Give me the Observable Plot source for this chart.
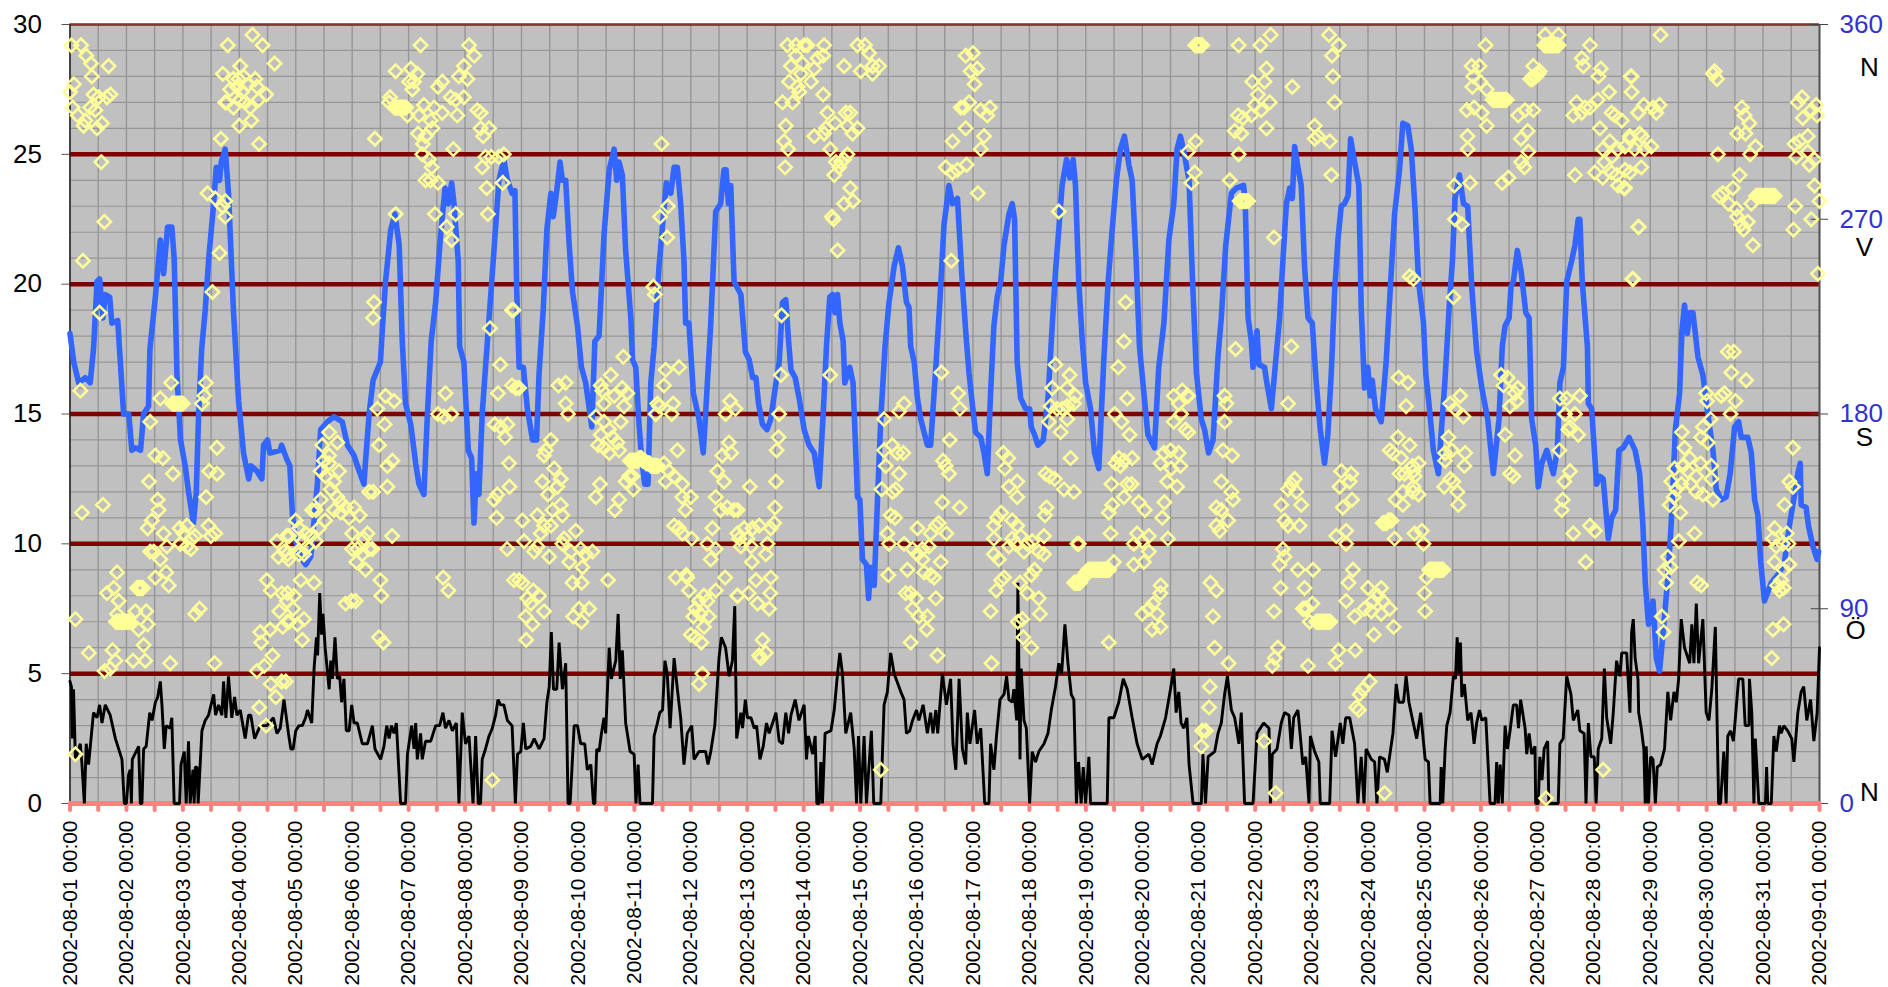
<!DOCTYPE html>
<html>
<head>
<meta charset="utf-8">
<script src="https://cdn.jsdelivr.net/npm/d3@7"></script>
<script src="https://cdn.jsdelivr.net/npm/@observablehq/plot@0.6"></script>
<style>html,body{margin:0;padding:0;background:#fff}svg{display:block}</style>
</head>
<body>
<div id="chart"></div>
<script>
// Hourly records from 2002-08-01 00:00. Pairs: [hours since start, value on left axis]
const startDate = Date.UTC(2002, 7, 1);
const hoursInPeriod = 744;
const leftTicks = [0, 5, 10, 15, 20, 25, 30];
const rightTicks = [0, 90, 180, 270, 360];
const compassLabels = ["N", "V", "S", "Ö", "N"];
const compassDegrees = [340, 257, 169, 80, 5];
const compassOffsets = [50, 45, 45, 36, 50];

const blueSeries = [[0,18.1],[1.6,17],[3.7,16.2],[6.5,16.4],[8.6,16.2],[10,17.5],[11.5,20.1],[12.6,20.2],[14,18.7],[15,19.6],[16.9,19.5],[17.8,18.5],[20.3,18.6],[22.8,15],[25,15],[26.3,13.6],[27.8,13.7],[30,13.6],[31.3,15],[33.4,15.3],[34,17.5],[36.3,19.5],[38.4,21.7],[39.8,20.4],[41.5,22.2],[43.3,22.2],[44.3,21],[45.5,16.5],[47,14],[49,13],[50.4,12],[52.5,10.8],[53.7,12],[54.7,15],[56,17.5],[57.5,19],[59,21],[61,23],[62.2,24.5],[63.6,24],[64.3,24.7],[66,25.2],[67.4,23.5],[69.5,19],[71.7,15.5],[73.8,13.5],[76,12.5],[77,13],[79.5,12.8],[81.6,12.5],[82.3,13.8],[84,14],[85,13.5],[89.4,13.6],[90,13.8],[92,13.3],[93.5,13],[94.6,11.1],[96,10.1],[98,9.5],[100.2,9.2],[102.4,9.5],[103.8,10.9],[105.2,12.3],[106.6,14.4],[109.5,14.7],[112.3,14.9],[115.8,14.7],[118,13.8],[120.8,13.4],[122.6,12.9],[125,12.3],[125.7,13.2],[127.2,15],[128.9,16.3],[132,17],[133,18.5],[134.2,20.1],[136.4,22.1],[138.2,22.7],[140,21.5],[141.3,17.8],[142.7,15.4],[144.9,14.6],[147,13.1],[148.4,12.3],[150.5,11.9],[152,15],[153.6,17.8],[155.5,19.3],[157.6,21.9],[159.5,23.7],[160.9,23.1],[162.3,23.9],[163.3,23.1],[165.1,20.9],[165.7,17.6],[167.5,17],[169.4,13.6],[170.8,13.3],[171.8,10.8],[172.8,12.7],[173.9,11.9],[175.3,15],[176.7,16.8],[178.4,18.9],[180.3,21.3],[182.4,24],[184.5,24.8],[186,24],[188,23.5],[189.2,23.6],[190,19.7],[191,16.8],[192.8,16.8],[194.5,15.2],[196.7,14],[198.4,14],[199.5,16.6],[201.3,19.1],[202.8,22.1],[204.5,23.5],[205.5,22.6],[207,23.6],[208.4,24.7],[209.4,24],[210.8,24],[212.3,21.5],[213.7,19.7],[215.8,18.4],[217.5,16.8],[219.3,16.2],[221.9,14.5],[223.2,17.8],[225,18],[227.1,21.9],[229.3,24.4],[231.4,25.2],[232.5,24],[233.5,24.7],[234.9,24.2],[236.3,21.3],[238.5,18.7],[239.2,17.1],[240.6,16.8],[242,14.6],[243.1,13.3],[244.4,12.3],[245.8,12.3],[247,16.2],[248.4,17.6],[250.5,20.7],[252.6,22.9],[253.6,23.9],[255.5,23.5],[256.9,24.5],[258.3,24.5],[259.7,23.1],[261.1,20.9],[261.8,18.5],[263.2,18.5],[265.1,15.8],[267.5,14.8],[269.3,13.5],[270.3,15],[272.5,18.5],[274.6,22.8],[276.7,23.1],[278.1,24.4],[279,24.4],[280,23.1],[281,23.8],[282.4,20.1],[285.3,19.6],[287.2,17.4],[288.8,17.1],[290.3,16.4],[291.7,16.4],[292.8,15.4],[294.5,14.6],[296.4,14.4],[298,14.8],[299.9,16],[301.6,17],[303,19.3],[304.4,19.4],[305.6,17.8],[306.6,16.7],[308.4,16.4],[310.1,15.6],[312.2,14.4],[314.3,13.8],[316.5,13.5],[318.6,12.2],[320.3,15],[321.7,17.6],[323.1,19.5],[324.3,19.6],[325.3,18.9],[326.4,19.6],[327.4,18.5],[328.8,17.8],[329.5,16.2],[331.6,16.8],[333,16.2],[334.9,11.8],[335.9,11.7],[337,9.4],[338.7,9.2],[339.6,7.9],[340.5,9.1],[342,8.4],[343.4,11.7],[344.8,14.8],[346.6,17.6],[348.3,19.3],[350.5,20.7],[352.3,21.4],[354,20.7],[355.7,19.3],[356.8,19.1],[357.5,17.6],[359,17],[360.4,15.6],[361.8,14.8],[364.6,13.8],[366,13.8],[368.2,16.8],[369.9,19.3],[371.7,22.3],[373.8,23.8],[375.3,23.1],[377.4,23.3],[379.3,20.3],[380.9,18.2],[382.3,16.6],[383.7,15.4],[385.1,14.3],[387.3,14.1],[388.7,13.5],[390.1,12.7],[391.5,15.8],[392.9,18.4],[394.3,19.5],[395.8,20.1],[397.2,21.5],[399.3,22.7],[400.7,23.1],[401.7,22.5],[402.8,17],[404.3,15.6],[406.4,15.2],[408.1,15.2],[408.8,14.5],[410.2,14.2],[411.6,13.8],[413.9,14],[415.9,15.6],[417.7,18.4],[419.1,20.5],[420.5,22.1],[421.9,23.8],[423.8,24.8],[425.2,24.1],[426.6,24.8],[427.6,23.8],[429,20.1],[430.5,17.8],[431.9,16.2],[434,15.2],[435.7,13.5],[437.5,12.9],[439.7,17.2],[441.5,20.1],[443.2,22.1],[445,24],[446.7,25.2],[448.4,25.7],[450.3,24.6],[451.7,24],[453.4,20.9],[454.8,17.6],[456.7,15.8],[458.4,14.2],[461.2,13.7],[463,16.8],[465.2,18.5],[467.3,21.7],[469.4,23.1],[470.8,25.2],[472.2,25.7],[473.7,25.1],[475.9,24],[477.3,20.3],[479,16.6],[481.1,14.8],[482.5,14.4],[484.2,13.5],[486.1,14],[488.2,17.2],[489.6,18.7],[491.5,21.5],[493.9,23.5],[496,23.7],[499.1,23.8],[499.8,23.1],[501,18.7],[502.4,17.8],[503.1,16.8],[504.8,18.2],[505.6,16.9],[508,16.8],[508.8,16.3],[510.9,15.2],[512.3,16.6],[514.4,18.7],[515.8,20.9],[517.3,23.1],[518.7,23.7],[519.8,23.3],[520.8,25.3],[522.2,24.5],[523.6,23.8],[525,20.7],[526.5,18.7],[528.3,18.5],[530,16.2],[531.7,14.4],[533.5,13.1],[534.9,14.2],[536.4,16.6],[537.8,19.7],[539.2,21.7],[540.6,23],[542,23.1],[543.5,23.4],[544.6,25.6],[546.3,24.7],[548.1,23.8],[549.1,19.1],[550.5,16],[551.9,16.8],[552.9,15.7],[553.8,16.3],[555.2,15.2],[557.6,14.7],[559.7,17],[561.4,19.7],[563.3,22.7],[565.4,24.4],[566.8,26.2],[568.9,26.1],[570.4,25.2],[572,22.9],[573.5,20.1],[575.6,18.5],[576.6,16.5],[577.7,15.6],[579.8,13.6],[581.9,12.7],[584.8,16.4],[586.5,19.1],[587.9,20.9],[589,23.3],[590.9,24.2],[592.6,23.1],[594.4,23],[596.1,19.9],[598.2,17.4],[600.4,16],[602.9,14.8],[605.3,12.7],[607.7,14.8],[609.1,17.6],[610.3,18.4],[612,18.7],[612.8,19.9],[613.8,20.1],[615.5,21.3],[617.1,20.5],[619.1,18.9],[620.5,18.7],[621.6,14.8],[623.3,13.8],[624.4,12.2],[625.9,13.1],[628,13.6],[630.8,12.7],[632.5,13.6],[633.6,16.2],[635.1,16.8],[636.5,20.1],[638.6,20.9],[640,21.5],[641.4,22.5],[642.1,22.5],[643.1,20.1],[645.3,17.6],[645.7,15.4],[647.1,15.2],[649.2,12.3],[650.6,12.6],[652,12.5],[654.2,10.2],[655.6,11],[657.3,11.3],[658.7,13.6],[660.5,13.7],[663,14.1],[665.6,13.6],[667.5,12.7],[668.9,10.7],[669.9,8.5],[671.3,6.9],[673.2,7.8],[674.6,5.6],[676,5.1],[678.1,7.2],[679.5,8.7],[680.9,10.7],[682.7,14.4],[684.5,15.8],[685.5,18.2],[686.6,19.2],[687.8,18.1],[688.8,18.9],[690.2,18.9],[692.3,17.2],[694.4,16.5],[696.5,15],[698.7,13.6],[700.1,12.1],[702.2,11.7],[704.3,11.8],[706,12.7],[707.9,14.5],[709.6,14.7],[710.7,14.1],[713.5,14.1],[715,13.5],[716.4,11.7],[717.8,11.1],[719,9.3],[720.6,7.8],[723.5,8.5],[727,8.9],[729.1,9.3],[731.2,10.7],[733.4,11.9],[734.8,12.7],[735.8,13.1],[736.2,11.5],[738.3,11.4],[739.3,10.7],[741.2,9.9],[743,9.4],[743.6,9.7]];

const blackSeries = [[0,4.7],[0.6,4.5],[1,2.5],[1.5,4.4],[2.3,1.7],[4.4,2.3],[5.1,1.5],[6.1,0],[6.9,2.3],[7.9,1.5],[10,3.5],[11.5,3.3],[12.6,3.8],[13.6,3.1],[15,3.8],[17.1,3.4],[19.3,2.5],[22.1,1.7],[23.1,0],[24,0],[24.9,1.1],[25.6,1.3],[26.1,0],[26.5,1.7],[29.2,2.2],[29.9,0],[30.6,0],[31.3,2.1],[32.4,2.2],[33.9,3.5],[34.9,3.2],[36.3,3.9],[37.3,4.1],[38.4,4.7],[39.1,3.8],[40.1,2.1],[40.9,3],[42.6,2.9],[43.3,3.3],[44.3,0],[46.6,0],[47.2,1.5],[48.6,2],[49.4,0],[50.4,2.4],[51.1,0],[52.3,1.3],[52.8,0],[53.3,1.4],[54,1.4],[54.5,0],[56.1,2.8],[57.5,3.2],[58.9,3.4],[61.1,4.2],[61.9,3.4],[63.2,3.8],[64.6,3.4],[65.3,4.7],[66.3,3.3],[67.4,4.9],[68.8,3.3],[70,4.1],[71,3.4],[72.4,3.6],[74.5,2.5],[75.9,3.4],[76.9,3.4],[78.5,2.5],[80.9,3],[83.7,3],[86.5,3.3],[88,2.7],[89.4,2.9],[91,4],[92.9,2.7],[93.9,2.1],[94.9,2.1],[96,2.8],[97.4,3],[98.8,3],[100.2,3.3],[101,3.6],[102.8,3.1],[103.8,5.2],[104.8,6.4],[105.3,5.7],[106.2,8.1],[107,6.5],[107.6,7.3],[108.5,6],[110.2,4.4],[110.9,5.5],[111.6,4.8],[112.7,6.4],[113.7,4.8],[114.7,4.9],[115.5,3.9],[116.5,4.8],[117.5,2.8],[118.7,2.8],[119.8,3.8],[120.8,3.1],[122.2,3.1],[124.3,2.3],[126.5,2.3],[128.6,3],[129.7,2.1],[132.1,1.7],[133.5,2.2],[134.7,3],[135.7,2.5],[136.7,3],[137.8,2.7],[138.8,3.1],[140.6,0],[142.7,0],[143.5,1.9],[145.3,3],[146.3,2.1],[147,3.1],[147.7,1.7],[149.1,2.7],[149.8,1.7],[151.2,2.4],[153.4,2.4],[155.5,3],[157.2,3],[158.6,3.5],[159.7,2.9],[161.2,3.2],[162.6,2.8],[164.3,3.1],[165.4,0],[166.8,3.5],[168.2,2.3],[169.7,2.6],[171.4,0],[172.5,2.6],[173.6,0],[174.6,0],[175.3,1.7],[176.7,2.1],[178.2,2.6],[179.6,2.9],[181,3.4],[182,4],[183.1,3.8],[184.5,3.8],[186,3.2],[188,3],[189.4,0],[190.3,1.9],[191.7,2],[192.8,3.1],[193.8,2.1],[195.9,2.2],[197.4,2.5],[199.5,2.1],[201.6,2.5],[202.8,3.9],[203.8,4.5],[204.7,6.6],[205.6,4.4],[207,4.4],[208,6.2],[209.4,4.4],[210.8,5.4],[211.8,0],[212.7,0],[214.4,3],[215.8,3],[217.2,2.3],[218.9,2.3],[220,1.3],[221.5,1.5],[222.6,0],[223.2,0],[224,2.1],[225,2],[226,2.7],[227.1,3.3],[227.8,2.7],[229.3,6],[230.2,4.8],[232.1,5.5],[233.1,7.3],[234,4.8],[234.9,5.9],[236.3,3.1],[238.2,2],[239.9,1.9],[240.7,0],[241.6,1.5],[242.4,0],[247.7,0],[248.4,2.6],[249.8,3.1],[250.8,3.5],[252,3.6],[253,5.5],[254,5],[255.2,2.9],[256.9,5.6],[258.3,4.4],[259.7,3.3],[261.1,1.5],[262.5,2.7],[264.4,3],[265.4,1.7],[267.5,2],[270.3,2],[271.3,1.5],[272.5,2],[274.2,3],[276,5.6],[277,6.4],[278.8,6],[280.3,4.9],[281.7,5.5],[282.7,7.6],[283.5,2.5],[285.3,3.5],[286,2.9],[287.2,4],[288.1,3.3],[289.6,3.3],[291,2.9],[292,3],[293.4,1.7],[294.8,2.2],[296.2,3.1],[297.3,2.7],[298.8,3.1],[300.2,3.5],[301.6,2.4],[303,2.3],[304.4,3.5],[305.6,2.7],[306.6,3.4],[308.4,4],[310,3.2],[312.2,3.8],[313.2,1.7],[314,2.6],[315.8,1.9],[316.9,2.6],[317.6,0],[318.6,0],[319.3,1.6],[320,0],[321.1,2.7],[323.6,2.8],[325,3.6],[326.4,5],[327.4,5.8],[328.5,5],[329.9,2.7],[332,3.5],[333.5,2.1],[334.5,0],[335.3,2.6],[336.3,0],[337.7,2.6],[338.7,0],[340.8,2.8],[341.8,0],[344.8,0],[346.2,3.8],[347.6,4.3],[349,5.8],[350.5,5],[353.3,4.3],[354.7,4],[355.7,2.7],[357.1,2.8],[358.3,3.2],[360,3.6],[361,3.2],[362.8,3.8],[364.6,2.7],[366,3.5],[367,2.7],[368.2,3.6],[369,2.7],[371,5],[372.7,3.8],[374.5,4.8],[375.5,2.3],[376.7,1.3],[378.1,4.8],[379.5,2.1],[380.9,1.5],[381.6,3.5],[382.7,2.3],[384.7,3.6],[385.8,2.3],[387.3,2.9],[389,0],[390.8,0],[391.5,2.3],[392.9,1.3],[394,2.6],[395.5,4],[397.2,4.2],[398.3,4.9],[399.3,4],[400.7,3.9],[401.4,4.4],[402.6,3.2],[403.1,8.5],[404,1.7],[404.5,5.2],[405.7,3.2],[406.7,2.9],[408.1,0],[409.2,2],[410.6,1.6],[412,2],[414.2,2.3],[415.9,2.7],[417.3,3.6],[419.1,4.5],[420.5,5.4],[421.7,5],[423.1,6.9],[424.4,5.4],[425.8,4.2],[426.9,4],[428,0],[428.9,1.6],[430,0],[430.9,1.4],[431.9,0],[433.3,1.8],[434,0],[441.1,0],[441.8,3.3],[443.9,3.3],[446,3.9],[447.9,4.8],[449.6,4.4],[451.7,3.3],[453.8,2.3],[456,1.7],[458.8,1.9],[460.2,1.5],[462.3,2.3],[463.7,2.6],[465.9,3.3],[468,4.4],[469.4,5.2],[470.4,3.5],[471.5,4.3],[472.5,3.1],[473.7,2.9],[475,3.3],[475.9,1.5],[477.6,0],[481.1,0],[481.8,1.9],[482.9,0],[484,1.8],[486.8,2],[488.2,2.7],[489.6,3.1],[491,4.2],[492.2,4.9],[493.9,3.6],[495.3,3.3],[497.1,2.3],[498.1,3.5],[499.5,0],[503.1,0],[504.8,2.7],[507.6,3.1],[509.9,2.9],[510.5,0],[511.3,1.9],[513.3,2.1],[515.1,3.1],[516.5,3.5],[518.4,3.4],[519.4,2.1],[520.4,3.3],[522.2,3.6],[524.3,1.5],[525.5,1.8],[526.9,0],[527.5,2.6],[529.3,2],[531.1,1.6],[531.7,0],[535.7,0],[536.7,2.8],[538.2,1.8],[540.2,3.1],[541.3,2.3],[542.5,3.3],[544.2,3.3],[546.3,2.3],[547.7,0],[549.1,1.8],[550.3,0],[551.2,2.1],[553.4,1.7],[554.8,1.6],[555.8,0],[556.9,1.8],[559,1.7],[560.2,1.2],[562.6,2.7],[564,4.6],[565.1,3.9],[567.1,3.9],[568.2,4.9],[569.4,3.9],[571,3.2],[572.7,2.5],[574.4,3.5],[576.3,1.7],[577.7,1.6],[578.4,0],[582.7,0],[583.1,1.4],[583.8,0],[584.8,2.1],[585.5,3],[586.9,3.5],[588.3,4.9],[589.2,4.8],[589.9,6.4],[590.7,5],[591.3,6.2],[591.9,4.1],[593,4.6],[594.4,3.2],[595.8,3.5],[597.1,2.3],[598.2,3.1],[599.4,3.6],[600.4,3.2],[602.1,3.3],[603.9,0],[606,0],[606.7,1.6],[607.4,0],[608.2,1.5],[609.1,0],[610.3,3],[611.3,2.1],[612.4,2.8],[613.8,3.8],[615.2,3.8],[616,2.9],[616.9,4],[618.8,2.9],[619.5,1.9],[620.5,2.7],[621.6,1.9],[623,2.2],[623.3,0],[624.4,0],[625.1,1.8],[626,0.9],[626.9,2.1],[628.4,2.4],[628.9,0],[632.9,0],[633.6,2.3],[635,2.5],[636.5,4.9],[638.3,4.2],[639.3,3.2],[641.2,3.6],[642.1,2.8],[643.9,2.7],[644.7,0],[645.7,3.1],[646.8,1.8],[648.2,1.8],[649,0],[649.9,2.1],[651.4,2.5],[652.5,5.2],[653.5,3.3],[655.2,2.3],[656.3,3.5],[657.7,5.5],[659.1,4.9],[659.9,5.8],[662,5.8],[663.4,3.5],[664.1,6.6],[664.8,7.1],[665.6,5.6],[666.8,4.8],[667.1,3.5],[668.2,2.9],[669.3,2.1],[669.9,0],[670.3,2.2],[671.2,0],[672.2,1.8],[673.2,1.7],[674.2,0],[675,1.4],[676.4,1.5],[678.1,2.1],[679.5,4.3],[680.7,3.2],[682.1,4.3],[683.1,3.9],[684.1,4.8],[685.2,7.1],[686.6,6],[688.8,5.4],[689.7,6.9],[690.6,5.4],[691.6,7.7],[692.6,5.4],[694.4,7.1],[695.8,3.5],[697,3.2],[698.2,4.4],[699.7,6.8],[701.1,0],[701.9,0],[703.3,2],[704.3,0],[705,2.6],[706.2,2.8],[707.4,2.4],[708.6,3.7],[709.6,4.8],[711.4,4.8],[712.4,3],[714,3],[714.2,4.8],[715.2,3.5],[716.1,0],[716.7,2.5],[718.2,0],[721,0],[721.5,1.4],[722,0],[723.5,0],[724.2,1.7],[724.6,2.6],[725.6,2],[727,3],[727.7,2.7],[728.8,3],[730.5,2.8],[732.2,2.5],[733.1,1.6],[734.8,3.5],[736.2,4.3],[737.3,4.5],[738.6,3.2],[740.2,4],[741.6,2.4],[743,3.5],[744,6]];

const directionPoints = [[0.6,29.2],[4.7,29.2],[6.9,28.8],[8.9,28.5],[9.3,28],[16.4,28.4],[1.6,27.7],[0,27.4],[10,27.3],[12.2,27.2],[17.2,27.3],[15.7,27.2],[1.1,26.8],[3.3,26.5],[8.6,26.8],[10.8,26.7],[6.5,26.3],[5.8,26.1],[11.5,26],[13.6,26.2],[13.3,24.7],[14.6,22.4],[5.5,20.9],[4.4,15.9],[12.6,18.9],[43,16.2],[38.4,15.6],[43.5,15.4],[45,15.4],[46.5,15.4],[48,15.4],[34.1,14.7],[36.3,13.4],[39.5,13.3],[43.8,12.7],[33.6,12.4],[37.3,11.7],[37.7,11.3],[34.8,10.9],[33,10.6],[39.8,10.4],[5.1,11.2],[14,11.5],[34.1,9.7],[35.6,9.7],[41.2,9.9],[38.4,9.4],[40.9,8.9],[36.3,8.7],[42,8.4],[20,8.9],[18.6,8.3],[15.7,8.1],[20.7,7.8],[28.5,8.3],[30,8.3],[31,8.3],[20,7.3],[19.5,7],[21,7],[22.5,7],[24,7],[25.5,7],[27.8,7.4],[32.4,7.4],[33,6.9],[29.2,6.7],[2.3,7.1],[8,5.8],[18.1,5.9],[31.3,6.1],[19.3,5.5],[17.1,5.2],[14.7,5.1],[26.8,5.5],[32,5.5],[42.6,5.4],[2.3,1.9],[46.6,10.6],[49.7,10.7],[48.3,10.4],[46.9,10],[49.7,9.9],[51.4,9.8],[53.2,10.3],[51.8,10.2],[53.3,7.3],[55.1,7.5],[57.9,11.8],[59.2,12.8],[62.5,12.7],[62.5,13.7],[57.8,16.2],[57.1,15.7],[56.1,15.4],[58.9,10.7],[61.8,10.4],[59.9,10.3],[61.5,5.4],
[67.1,29.2],[77.6,29.6],[81.9,29.2],[87,28.5],[65,28.1],[72.4,28.4],[69.5,27.9],[71.7,27.9],[73.8,28],[78.8,27.9],[68.1,27.5],[71,27.6],[73.1,27.4],[75.9,27.7],[79.5,27.6],[83.4,27.3],[66.7,27],[72.4,27.1],[80.2,27.1],[66,27],[69.5,26.8],[74.5,27],[76.6,26.8],[72,26.1],[77.1,26.3],[64.2,25.6],[80.4,25.4],[58.5,23.5],[61.8,23.3],[64.9,23],[66,23.2],[66,22.6],[63.6,21.2],[60.6,19.7],[88,10.1],[92.2,10.3],[88.7,9.5],[91,9.7],[92.9,9.4],[83.7,8.6],[85.4,8.2],[90.1,8.1],[92.2,7.8],[89,7.4],[90.5,6.8],[92.5,7],[80.9,6.6],[85.1,6.7],[81.3,6.2],[86.1,5.7],[82.6,5.3],[79.5,5.1],[85.4,4.6],[90,4.7],[87.5,4.1],[80.5,3.7],[83.4,3],
[149.1,29.2],[169.7,29.2],[171.9,28.8],[167.5,28.4],[138.5,28.2],[144.9,28.3],[147.7,28.1],[144.2,27.8],[146.3,27.8],[165.4,28],[169,27.9],[158.3,27.8],[156.5,27.6],[145.6,27.5],[136.1,27.2],[135.7,27],[138,26.8],[139.5,26.8],[141,26.8],[143,26.8],[143.5,26.5],[150.5,26.9],[148.4,26.5],[154.8,26.8],[158.3,26.6],[161.9,27.2],[164,27.1],[167.5,27.2],[164.7,26.5],[173.2,26.7],[174.6,26.6],[153.4,26.3],[154.1,26],[178.2,26],[174.6,26],[175.7,25.7],[129.7,25.6],[148,25.8],[151.2,25.7],[150.1,25.4],[149.8,25],[163,25.2],[152.7,24.8],[153.8,24.5],[151.2,24],[153.4,24],[156.5,23.9],[176.7,24.9],[179.2,24.9],[175.3,24.5],[184.5,25],[182.4,24.9],[184,23.9],[177.2,23.7],[177.7,22.7],[138.5,22.7],[155.2,22.7],[164,22.7],[160.2,22.2],[162.3,21.7],[129.3,19.3],[128.9,18.7],[178.6,18.3],[188,19],[183,16.9],[182,15.8],[188,16.1],[134.2,15.7],[137.8,15.5],[130.7,15.2],[133.8,14.6],[159.7,15.8],[156.5,15],[159,14.9],[162.2,15],[131.4,13.8],[135,13],[137.1,13.2],[135,12.2],[127.2,12],[128.9,12],[180.6,14.6],[183.1,14.5],[186,14.6],[185,14.1],[186.7,13.1],[186.9,12.2],[181.7,11.9],[180.3,11.7],[181.4,11],[185.9,9.8],[188.8,8.6],
[110.2,14.3],[107.3,13.8],[113.7,13.9],[110.2,13.4],[108,13.2],[106.6,12.8],[108.7,12.6],[110.2,13.1],[114.4,12.8],[112.3,12.4],[110.9,12.1],[113.7,11.8],[106.6,11.7],[104.5,11.3],[103,11.3],[108.5,10.9],[112.3,11.3],[115.1,11.6],[117.3,11.4],[115.1,11.2],[118.7,11],[120.8,11.4],[123.2,11.1],[105.9,10.6],[120,10.4],[126.5,10.4],[125,10.2],[127.2,9.8],[128.6,9.8],[122.2,9.8],[120,9.8],[124.3,9.6],[121.8,9.3],[125.7,9],[137,10.3],[132,8.6],[132.4,8],[117.2,7.7],[119.7,7.8],[121.5,7.8],[131.4,6.4],[133.3,6.2],[158.7,8.7],[160.9,8.2],[179.6,0.9],[96,10.9],[97.4,10.6],[93.2,10.3],[100.2,10.4],[102.4,10.3],[99.2,10.1],[94.6,10],[101,9.9],[104.5,10.1],[92.5,9.6],[97.4,9.6],[99.5,9.6],[98.1,8.6],[103.8,8.5],[92.5,8.1],[95.3,8],[94.9,7.5],[93.2,7],[99.5,7.1],[96.7,6.9],[98.8,6.3],[91.8,4.7],
[251.6,25.4],[254.3,23],[250.9,22.6],[254,21.8],[248.1,19.9],[248.7,19.6],[188.6,19],[189.6,16],[191,16],[207.7,16.1],[210.8,16.2],[210.8,15.4],[211.8,15],[235.3,17.2],[230,16.5],[225.7,16.1],[226.4,15.9],[234.9,16],[231.4,15.7],[237,15.8],[227.1,15.4],[235.6,15.3],[223.6,14.9],[234.2,14.7],[227.1,14.7],[229.3,14.4],[225.7,14.2],[224.6,13.8],[230.7,14.1],[227.1,13.7],[232.8,13.9],[229.3,13.5],[233.5,13.6],[204.5,14],[202.3,13.6],[201.6,13.4],[205.9,12.9],[208.7,12.5],[200.9,12.4],[207.3,12.2],[203.3,11.9],[208.7,11.5],[198.8,11.1],[205.2,11.3],[209.4,11.1],[192.4,10.9],[201.6,10.7],[204.5,10.7],[200.2,10.4],[193.1,10.1],[198.8,9.9],[197.4,9.7],[203.8,9.5],[210.1,10.2],[215.1,10.5],[209.4,10],[213,9.7],[217.2,9.8],[219.3,9.6],[222.2,9.7],[212.3,9.3],[217.9,9.1],[191,8.6],[192.4,8.5],[197,8.2],[199.5,8],[194.5,7.9],[196,7.7],[201.6,7.4],[193.8,7.2],[196.7,6.9],[194,6.3],[213.7,8.5],[217.6,8.5],[228.8,8.6],[214,7.2],[216.5,7.5],[220.8,7.5],[217.5,7],
[238,13.2],[240,13.2],[242,13.3],[244,13.2],[246,13.1],[248,13],[250,13],[239.2,12.6],[236.3,12.4],[237.8,12.6],[239.6,12.1],[225.4,12.3],[223.6,11.8],[233.5,11.7],[231.7,11.3],[253.3,16.7],[259,16.8],[252.6,16.1],[249.8,15.4],[250.5,15.3],[256.5,15.4],[249.1,15],[255.9,15],[258.3,13.6],[252.6,13.1],[254.7,12.8],[253.3,12.4],[256.9,12.6],[260.4,12.3],[264,11.8],[260.4,11.8],[261.7,11.3],[256.9,10.7],[259,10.6],[260.4,10.4],[264.4,10.2],[257.6,8.7],[262.1,8.8],[262.5,8.7],[263.2,8.2],[269.6,8],[274.6,8.2],[267.5,7.8],[266,7.5],[271,7.8],[265.1,7.2],[268,7.3],[271.7,7.2],[269.6,6.8],[264,6.5],[266,6.4],[268.5,6.2],[268.9,5],[267.5,4.6],[280.7,15.5],[283,15.2],[278.8,15],[280.2,13.9],[277.4,13.4],[281.2,13.5],[275.3,12.8],[278.1,12.4],[274.6,11.8],[276.7,11.3],[279.5,11.4],[282.4,11.3],[273.2,10.6],[283.8,10.4],[271,10],[274.6,9.8],[272.5,9.4],[278.6,8.7],[283.8,8],
[305.1,29.2],[308.7,29.2],[312.2,29.2],[313.6,29.2],[320.7,29.2],[334.9,29.2],[338.1,29.2],[339.8,28.9],[308.7,28.8],[317.9,28.7],[320.3,28.8],[306.6,28.4],[311.5,28.5],[329.2,28.4],[316.5,28.3],[310.8,28.1],[341.3,28.4],[344.1,28.4],[336.3,28.2],[341.3,28.1],[305.8,27.8],[315.1,27.8],[309.4,27.6],[310.1,27.4],[320.3,27.3],[303,27],[307.3,27],[331.8,26.6],[322.1,26.6],[329.9,26.6],[304.4,26.1],[316.5,25.7],[321.4,26],[320.7,25.8],[325.4,26.2],[330.6,26.1],[334.9,26],[332.8,25.8],[303.7,25.5],[305.4,25.2],[323.3,25.2],[330.6,25],[325.7,24.7],[327.8,24.7],[329.2,24.8],[327.1,24.5],[325,24.2],[304.1,24.5],[331.8,23.7],[329.2,23.1],[333,23.2],[324,22.6],[324.7,22.5],[326.4,21.3],[302.6,18.8],[302.3,16.5],[323.3,16.5],[301.6,15],[301.3,14.1],[300.5,13.6],[300.2,12.4],[289.1,12.2],[299.8,11.4],[299.5,10.8],[298,10.6],[283.9,11.3],[293.1,10.7],[290.3,10.6],[286.7,10.6],[284.6,10.2],[288.1,10.2],[285.3,9.9],[289.6,9.9],[296.6,10],[295.9,9.6],[290,9.3],[298,8.7],[291.7,8.6],[283.9,8],[288.6,8.1],[297.8,8.1],[292.4,7.7],[297.3,7.5],[294.5,6.3],[293.1,5.7],[295.9,5.8],[293.8,5.6],
[375.3,25.5],[372.4,24.5],[375.3,24.3],[377.4,24.4],[378.8,26.8],[374.8,20.9],[370.6,16.6],[377.7,15.8],[378.4,15.2],[354.7,15.4],[352.6,15.1],[346.2,14.8],[374.1,14],[371.3,13.2],[372.4,13],[373.8,12.7],[346.2,13.6],[349.7,13.8],[351.8,13.5],[354.4,13.5],[346.9,13],[352.6,12.7],[345.1,12.1],[349.8,12],[351.2,12.1],[371,11.6],[378.4,11.4],[349,11.1],[350.9,11],[360.4,10.6],[369.4,10.8],[368.2,10.7],[366,10.4],[372.7,10.4],[347.6,10.4],[348.3,10],[354.7,10],[358.3,9.8],[362.5,9.8],[365.3,9.9],[360.4,9.6],[370.3,9.3],[362.5,9.4],[356.1,9],[363.2,8.9],[366,8.8],[367.5,8.7],[348,8.8],[355.4,8.1],[357.5,8.1],[359.7,7.9],[368.2,7.9],[358.3,7.5],[361,7.2],[364.6,7.2],[364.3,6.7],[357.5,6.2],[368.9,5.7],[344.8,1.3],
[380.9,28.8],[384,28.9],[383,28.2],[385.8,28.3],[384.7,27.7],[382.3,27],[380.2,26.8],[387.3,26.7],[391.2,26.8],[390.1,26.5],[380.9,26],[388.7,25.7],[387.3,25.2],[381.3,24.6],[386.1,23.5],[420.5,22.8],[448.9,19.3],[448.2,17.8],[445.8,16.8],[449.6,15.6],[419.1,16.9],[425.1,16.5],[417.7,16],[424.1,16],[427.6,15.7],[417,15.3],[419.8,15.2],[422,15.2],[424.1,15.3],[426.9,15.4],[416.3,14.7],[424.1,14.8],[421.3,14.3],[444.3,15],[447.2,14.7],[450.6,14.2],[425.5,13.3],[396.9,13.5],[399,13.3],[397.6,12.9],[414.9,12.7],[416.6,12.6],[418.8,12.5],[422.7,12.1],[426.9,12],[399.3,12.2],[402.8,12.4],[402.8,11.8],[415.3,11.4],[414.6,11.1],[396,11.2],[394.3,11],[392.9,10.7],[400.7,10.9],[402.8,10.7],[392.9,10.2],[400.7,10.2],[404.3,10.3],[414.2,10.3],[407.1,10],[409.2,10.1],[399.3,9.9],[402.1,10],[392.9,9.6],[395,9.4],[405.7,9.7],[412,9.7],[414.2,9.6],[428.4,10],[429,10],[410.2,9],[408.8,8.8],[397.2,8.7],[396,8.6],[393.9,8.2],[404,8.5],[407.1,8.1],[412,7.9],[412.5,7.3],[391.5,7.4],[405,7.1],[403.1,7],[405.4,6.4],[408.8,6],[391.9,5.4],[427,8.5],[429,8.5],[431,8.7],[434,9],[436,9],[438,9],[440,9],[442,9],[443.9,9.3],[441.8,6.2],[446,13.3],[448.2,13.2],[444.6,13.1],[451.7,13.3],[446.7,13],[449.6,12.3],[451.5,12.3],[442.9,12.3],[448.2,11.8],[443.2,11.5],[441.8,11.2],[454.5,11.6],[457.1,11.3],[464.5,11],[465.4,11.6],[442.5,10.4],[453.8,10.4],[458.8,10.3],[452.4,10],[456,10.1],[466.9,10.2],[458.8,9.7],[452.4,9.2],[456.7,9.3],[463.8,8.4],[463.7,8.1],[460.6,7.7],[458.8,7.5],[456,7.3],[462.3,7.3],[463.7,6.8],[460.2,6.7],[469.4,15.7],[473,15.9],[475.1,15.7],[471.5,15.4],[472.5,15],[469.4,14.7],[474.4,14.4],[468,13.6],[465.2,13.5],[471.5,13.5],[463.7,13.1],[472.2,13],[468.3,12.9],[466.6,12.4],[470.8,12.2],
[480,29.2],[478.5,29.2],[481.5,29.2],[497,29.2],[506.2,29.2],[510.6,29.6],[535.4,29.6],[539.5,29.2],[536.7,28.8],[537.1,28],[537.8,27],[508.8,28.3],[502.8,27.8],[508,27.8],[519.8,27.6],[510.2,27],[505.2,27.3],[503.8,26.9],[506.6,26.7],[496.7,26.5],[502.4,26.5],[498.8,26.4],[495.3,25.9],[498.1,25.8],[508.8,26],[529.3,26.1],[530.7,25.7],[529.3,25.6],[535.7,25.5],[478.7,25.5],[475.5,25.1],[497,25],[536.4,24.2],[478.3,24.3],[493.2,24],[476.9,23.9],[497.4,23.2],[499,23.2],[501,23.2],[512,21.8],[569.7,20.3],[519.4,17.6],[495.7,17.5],[565,16.4],[569,16.2],[475.5,15.7],[491,15.7],[491.8,15.4],[518,15.4],[568.2,15.3],[491,14.7],[475.5,14.3],[490.3,13.6],[494.2,13.4],[564.7,14.1],[562.6,13.5],[561.2,13.6],[569.7,13.8],[566.1,13.3],[571,13],[565.4,12.7],[567.5,12.7],[571.8,12.6],[540.6,12.8],[544.9,12.7],[539.9,12.2],[544.2,12.4],[489.6,12.4],[520.8,12.5],[519.4,12.3],[518,12.1],[521.5,12],[566.8,12],[571,12],[493.9,12],[494.6,11.7],[563.7,11.7],[515.1,11.5],[523.6,11.5],[545.2,11.7],[541.3,11.4],[566.8,11.5],[487.5,11.4],[489.6,11.3],[492.5,10.9],[487.5,10.7],[488.9,10.5],[516.5,10.9],[518,10.7],[522.9,10.7],[558.3,10.8],[560,10.8],[562,10.9],[542.7,10.5],[538.5,10.3],[542.7,10],[563.3,10.2],[571.8,10.4],[515.8,9.8],[516.5,9.5],[514.4,9.2],[522.2,9],[528.6,9],[545.6,9],[543.7,8.5],[485,8.5],[487.5,8.2],[514.8,8.3],[525,8.3],[552,8.3],[557.6,8.3],[542.7,7.8],[556.2,8],[554.1,7.8],[558.3,7.8],[550.5,7.5],[561.2,7.5],[553.4,7.4],[557.6,7.3],[486.1,7.2],[512,7.4],[524.3,7.5],[526,7.5],[528.3,7.7],[527.2,7],[530,7],[532,7],[534,7],[536,7],[546.3,7.2],[562.9,6.8],[554.5,6.5],[486.8,6],[513.7,6],[512.3,5.6],[511.3,5.3],[526.5,5.3],[539.5,5.9],[538.2,5.4],[546.6,5.9],[492.7,5.4],[484.7,4.5],[484.4,3.7],[481.5,2.8],[483,2.8],[481.1,2.2],[507.8,2.4],[512.7,0.4],[559,0.4],[552.7,4.7],[549.8,4.4],[548.4,4.2],[547,3.7],[548.1,3.6],
[627.3,29.6],[633,29.6],[627,29.2],[629,29.2],[631,29.2],[633,29.2],[602,29.2],[622.3,28.4],[621,27.9],[623,28],[625,28.2],[596.1,28.4],[599.4,28.4],[596.8,28],[599.7,27.8],[596.4,27.6],[602.5,27.5],[605,27.1],[607,27.1],[609,27.1],[611,27.1],[594,26.7],[597.1,26.8],[600.4,26.6],[602.5,26.1],[594.3,25.7],[594.4,25.2],[615.9,26.5],[618.8,26.7],[622.3,26.7],[619.9,25.9],[617,25.6],[620.2,25.1],[617.1,24.7],[618.5,24.5],[611.7,24.1],[609.1,23.9],[595.4,23.9],[588.7,23.8],[589,22.5],[591.9,22.3],[588.3,19.5],[646.4,29.2],[642.9,28.7],[643.6,28.4],[651,28.3],[650,28],[664.1,28],[654.5,27.4],[664.1,27.4],[649.7,27.1],[640.7,27],[644.3,26.8],[646.4,26.8],[639.3,26.5],[642.9,26.6],[655.6,26.6],[657,26.5],[659.9,26.3],[667,26.6],[650.6,26],[640,24.2],[651.8,25.2],[654.8,25.5],[658.3,25.2],[661.3,25.3],[663.4,25.6],[668.4,25.7],[652.5,24.7],[655.6,24.9],[648.5,24.3],[651.8,24.1],[655.6,24.3],[657.7,24.2],[661.3,24.4],[663.4,24.3],[658.3,23.8],[661.3,23.7],[667,22.2],[664.8,20.2],[571.3,20.2],
[608.6,16.5],[611.4,16.4],[609.6,16.1],[615.7,16],[614.5,15.8],[615.2,15.5],[612.4,15.3],[591.2,15.7],[586.9,15.4],[589,15.2],[592.6,14.9],[610.3,14.2],[614.5,13.4],[612.4,12.7],[613.8,12.6],[586.2,14.1],[587.6,13.6],[593.3,13.5],[584.8,13.5],[584.8,13.2],[593,13],[633.6,15.6],[636.5,15.6],[642.1,15.7],[635.8,15],[640,15],[637.9,14.5],[637.2,14.4],[641.4,14.2],[633.4,13.6],[637.9,12.8],[635.5,12.4],[634.8,11.7],[634.4,11.3],[639.3,10.4],[646.4,10.7],[648.5,10.5],[644.6,9.3],[652,1.3],[627.7,0.2],[587,12.5],[584.4,12.2],[588.3,12.4],[590,12],[590.4,11.5],[573.5,13.1],[571.3,12.8],[573.5,11.9],[571.3,12.2],[574.9,10.5],[575.6,10],[578,9],[580,9],[582,9],[584,9],[577,8.7],[576,8.1],[576.3,7.4],
[676.4,29.6],[663.7,28],[669.3,26.9],[666.8,26.6],[674.6,26.6],[673.2,26.8],[676,26.9],[663.3,25.7],[667.5,25.8],[672.5,25.3],[669.6,25.2],[665.4,25.2],[668.2,24.5],[660.8,23.7],[667.1,22.2],[664.4,20.2],[699.4,28.2],[698.7,28.1],[700.4,27.9],[711,26.8],[712.1,26.5],[714.2,26.2],[709,25.8],[712.5,25.8],[700.8,25],[714.5,25],[716.8,25.3],[710,24.2],[707.2,23.7],[701.4,23.4],[702.9,23.5],[705.3,23.1],[708.6,22.9],[715,23.1],[717,23.4],[719,23.4],[721,23.4],[723,23.4],[725,23.4],[709,22.6],[710.7,22.3],[713.5,22.4],[711.7,22.1],[715.7,21.5],[736.6,27.2],[734.8,27],[740.5,26.7],[742.6,26.9],[743,26.5],[736.9,26.4],[739,25.7],[733.4,25.4],[735.5,25.5],[734.1,24.9],[739,25.1],[741.9,24.8],[739.7,24.6],[741.9,23.8],[733.7,23],[744,23.2],[740.5,22.5],[732.9,22.1],[743.3,20.4],
[705,17.4],[707.6,17.4],[706.5,16.6],[712.8,16.3],[695.8,15.8],[696.2,15.5],[703.6,15.8],[702.2,15.7],[708.3,15.5],[706.2,15],[697.7,14.8],[694.4,14.5],[685.5,14.3],[693.7,14.1],[696.5,13.9],[686.6,13.7],[693.4,13.1],[688.8,13.3],[698,13],[682.4,12.9],[685.9,13],[691.6,12.6],[688,12.8],[698,12.5],[681,12.4],[685.2,12.3],[689.2,12.3],[683.1,12.1],[691.6,12],[694.4,11.9],[682,11.8],[698.7,11.7],[680.3,11.5],[684.8,11.2],[690.9,10.4],[684.2,10.1],[679.5,9.5],[678.1,9],[680.7,9.1],[678.8,8.5],[692,8.5],[693.7,8.4],[677,7.2],[677.7,6.6],[732.7,13.7],[731.2,12.4],[732.7,12.2],[729.1,11.5],[724.9,10.6],[724.2,10.2],[730.1,10.4],[725.6,9.9],[728.4,10],[730.8,10],[731.2,9.2],[724.9,9.3],[728.8,9],[727.7,8.6],[726,8.4],[727,8.2],[728.8,8.3],[728.7,6.9],[724.2,6.7],[723.7,5.6]];

// Runs of hourly readings that sit on nearly the same direction and merge on the chart
const steadyDirectionPoints = [[20,7],[20.5,7],[21.5,7],[22,7],[23,7],[23.5,7],[24.5,7],[25,7],[29,8.3],[29.5,8.3],[30.5,8.3],[44,15.4],[44.5,15.4],[45.5,15.4],[46,15.4],[47,15.4],[47.5,15.4],[138.5,26.8],[139,26.8],[140,26.8],[140.5,26.8],[141.5,26.8],[142,26.8],[142.5,26.8],[238.5,13.2],[239,13.2],[239.5,13.2],[240.5,13.2],[241,13.2],[241.5,13.2],[242.5,13.3],[243,13.3],[243.5,13.2],[244.5,13.2],[245,13.1],[245.5,13.1],[246.5,13.1],[247,13],[247.5,13],[248.5,13],[249,13],[249.5,13],[427.5,8.5],[428,8.5],[428.5,8.5],[429.5,8.5],[430,8.6],[430.5,8.7],[431.5,8.8],[432,8.9],[432.5,8.9],[433,9],[433.5,9],[434.5,9],[435,9],[435.5,9],[436.5,9],[437,9],[437.5,9],[438.5,9],[439,9],[439.5,9],[440.5,9],[441,9],[441.5,9],[530.5,7],[531,7],[531.5,7],[532.5,7],[533,7],[533.5,7],[534.5,7],[535,7],[535.5,7],[578.5,9],[579,9],[579.5,9],[580.5,9],[581,9],[581.5,9],[582.5,9],[583,9],[583.5,9],[605.5,27.1],[606,27.1],[606.5,27.1],[607.5,27.1],[608,27.1],[608.5,27.1],[609.5,27.1],[610,27.1],[610.5,27.1],[621.5,27.9],[622,27.9],[622.5,28],[623.5,28],[624,28.1],[624.5,28.1],[627.5,29.2],[628,29.2],[628.5,29.2],[629.5,29.2],[630,29.2],[630.5,29.2],[631.5,29.2],[632,29.2],[632.5,29.2],[717.5,23.4],[718,23.4],[718.5,23.4],[719.5,23.4],[720,23.4],[720.5,23.4],[721.5,23.4],[722,23.4],[722.5,23.4],[723.5,23.4],[724,23.4],[724.5,23.4],[497.8,23.2],[498.4,23.2],[499.6,23.2],[500.2,23.2],[558.8,10.8],[559.4,10.8],[560.6,10.9],[561.2,10.9],[524.8,7.5],[525.4,7.5],[478.9,29.2],[479.5,29.2],[480.5,29.2],[481,29.2]];

const toDate = h => new Date(startDate + h * 3600e3);
const endDate = toDate(hoursInPeriod);
const halfDays = d3.range(0, hoursInPeriod + 1, 12).map(toDate);
const days = d3.range(0, hoursInPeriod + 1, 24).map(toDate);
const unitLines = d3.range(0, 31);
const degToLeft = d => d / 12;
const fmt = d3.utcFormat("%Y-%m-%d %H:%M");
const font = "Liberation Sans, Arial, sans-serif";

const chart = Plot.plot({
  width: 1888,
  height: 987,
  marginLeft: 69.5,
  marginRight: 69,
  marginTop: 24,
  marginBottom: 184,
  style: {background: "#fff", fontFamily: font, overflow: "visible"},
  x: {type: "utc", domain: [toDate(0), endDate], label: null},
  y: {domain: [0, 30], label: null},
  marks: [
    Plot.frame({fill: "#c0c0c0", stroke: null}),
    Plot.ruleX(halfDays, {stroke: "#969696", strokeWidth: 1.4}),
    Plot.ruleY(unitLines, {stroke: "#969696", strokeWidth: 1.2}),
    Plot.ruleY([5, 10, 15, 20, 25], {stroke: "#800000", strokeWidth: 4.5}),
    Plot.ruleY([30], {stroke: "#800000", strokeWidth: 3, strokeOpacity: 0.65}),
    Plot.ruleX([toDate(0)], {stroke: "#222", strokeWidth: 1.5}),
    Plot.ruleX([endDate], {stroke: "#555", strokeWidth: 2}),
    Plot.axisY({ticks: leftTicks, tickSize: 8, tickPadding: 20, fontSize: 26, stroke: "#555", color: "#000", label: null, tickFormat: d => d}),
    Plot.axisY({anchor: "right", ticks: rightTicks.map(degToLeft), tickSize: 8, tickPadding: 12, fontSize: 26, stroke: "#444", fill: "#3333cc", label: null, tickFormat: d => d * 12}),
    Plot.ruleY(rightTicks.map(degToLeft), {x1: toDate(hoursInPeriod - 3.5), x2: endDate, stroke: "#444", strokeWidth: 1}),
    Plot.axisX({ticks: halfDays, tickSize: 7, stroke: "#ff8080", strokeWidth: 4, strokeLinecap: "round", tickFormat: null, text: null, label: null}),
    Plot.axisX({ticks: days, tickSize: 0, tickPadding: 17, tickRotate: -90, fontSize: 20.9, fill: "#000", tickFormat: fmt, label: null, lineAnchor: "middle"}),
    Plot.ruleY([0], {stroke: "#ff8080", strokeWidth: 5}),
    Plot.line(blackSeries, {x: d => toDate(d[0]), y: d => d[1], stroke: "#000", strokeWidth: 2.9, strokeLinejoin: "miter", curve: "linear"}),
    Plot.line(blueSeries, {x: d => toDate(d[0]), y: d => d[1], stroke: "#3366ff", strokeWidth: 5.6, curve: "linear"}),
    Plot.dot(directionPoints.concat(steadyDirectionPoints), {x: d => toDate(d[0]), y: d => d[1], symbol: "diamond2", r: 6, stroke: "#ffff99", strokeWidth: 2.5, fill: "none"}),
    ...compassLabels.map((label, i) => Plot.text([label], {x: endDate, y: [degToLeft(compassDegrees[i])], dx: compassOffsets[i], text: d => d, fontSize: 26, fill: "#000"}))
  ]
});
document.getElementById("chart").append(chart);
</script>
</body>
</html>
